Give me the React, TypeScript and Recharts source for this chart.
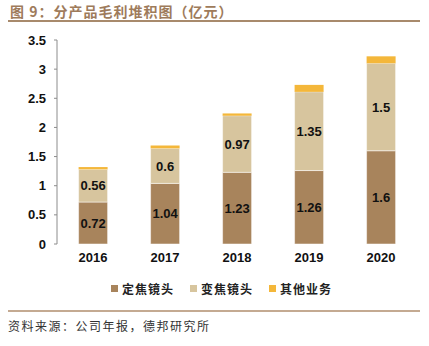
import { BarChart, Bar, XAxis, YAxis, LabelList } from 'recharts';

const years = ['2016', '2017', '2018', '2019', '2020'];
const fixedLens = [0.72, 1.04, 1.23, 1.26, 1.6];
const zoomLens = [0.56, 0.6, 0.97, 1.35, 1.5];
const otherBiz = [0.04, 0.05, 0.04, 0.12, 0.12];
const yTicks = [0, 0.5, 1, 1.5, 2, 2.5, 3, 3.5];
const boundaryTicks = [0, 1, 2, 3, 4, 5];

const seriesNames = ['定焦镜头', '变焦镜头', '其他业务'];
const colors = ['#A8845C', '#D7C59E', '#F4B73A'];

const data = years.map((year, i) => ({
  year,
  fixed: fixedLens[i],
  zoom: zoomLens[i],
  other: otherBiz[i],
}));

const CJK = '"Noto Sans CJK SC", "Noto Sans", sans-serif';
const LATIN = '"Liberation Sans", Arial, sans-serif';

const labelStyle = { fill: '#111', fontSize: 13, fontWeight: 700, fontFamily: LATIN };

export default function App() {
  return (
    <div style={{ position: 'absolute', left: 0, top: 0, width: 429, height: 346, background: '#fff', overflow: 'hidden' }}>
      <div style={{
        position: 'absolute', left: 10, top: 1, fontFamily: CJK, fontSize: 14, fontWeight: 700,
        color: '#9E7B5B', letterSpacing: 1, whiteSpace: 'nowrap',
      }}>
        图 9：分产品毛利堆积图（亿元）
      </div>
      <div style={{ position: 'absolute', left: 8, top: 20, width: 412, height: 2, background: '#A88A6C' }} />

      <div style={{ position: 'absolute', left: 0, top: 0 }}>
        <BarChart
          width={429}
          height={276}
          data={data}
          margin={{ top: 40, right: 12, bottom: 0, left: 0 }}
          barCategoryGap="30%"
        >
          <XAxis
            xAxisId="bounds"
            type="number"
            domain={[0, 5]}
            ticks={boundaryTicks}
            height={0}
            mirror
            tick={false}
            tickSize={4}
            axisLine={{ stroke: '#8C8C8C', strokeWidth: 1 }}
            tickLine={{ stroke: '#8C8C8C' }}
          />
          <XAxis
            dataKey="year"
            height={32}
            axisLine={false}
            tickLine={false}
            tickSize={0}
            tickMargin={9}
            tick={{ fill: '#111', fontSize: 13, fontWeight: 700, fontFamily: LATIN }}
          />
          <YAxis
            width={57}
            domain={[0, 3.5]}
            ticks={yTicks}
            tickSize={3}
            tickMargin={8}
            axisLine={{ stroke: '#8C8C8C' }}
            tickLine={{ stroke: '#8C8C8C' }}
            tick={{ fill: '#111', fontSize: 13, fontWeight: 700, fontFamily: LATIN }}
          />
          <Bar dataKey="fixed" stackId="a" fill={colors[0]} stroke="#fff" strokeWidth={0.5} isAnimationActive={false}>
            <LabelList dataKey="fixed" position="center" style={labelStyle} />
          </Bar>
          <Bar dataKey="zoom" stackId="a" fill={colors[1]} stroke="#fff" strokeWidth={0.5} isAnimationActive={false}>
            <LabelList dataKey="zoom" position="center" style={labelStyle} />
          </Bar>
          <Bar dataKey="other" stackId="a" fill={colors[2]} isAnimationActive={false} />
        </BarChart>
      </div>

      <div style={{
        position: 'absolute', left: 0, top: 280, width: 429, display: 'flex', justifyContent: 'center',
        paddingLeft: 14, boxSizing: 'border-box', fontFamily: CJK, fontSize: 12, fontWeight: 700, color: '#222',
      }}>
        {seriesNames.map((name, i) => (
          <div key={name} style={{ display: 'flex', alignItems: 'center', marginRight: i < 2 ? 16 : 0 }}>
            <span style={{ display: 'inline-block', width: 7, height: 7, background: colors[i], marginRight: 4 }} />
            <span style={{ letterSpacing: 1 }}>{name}</span>
          </div>
        ))}
      </div>

      <div style={{ position: 'absolute', left: 8, top: 310, width: 412, height: 2, background: '#C4AA92' }} />
      <div style={{
        position: 'absolute', left: 8, top: 317, fontFamily: CJK, fontSize: 12, color: '#333',
        letterSpacing: 1.5, whiteSpace: 'nowrap',
      }}>
        资料来源：公司年报，德邦研究所
      </div>
    </div>
  );
}
